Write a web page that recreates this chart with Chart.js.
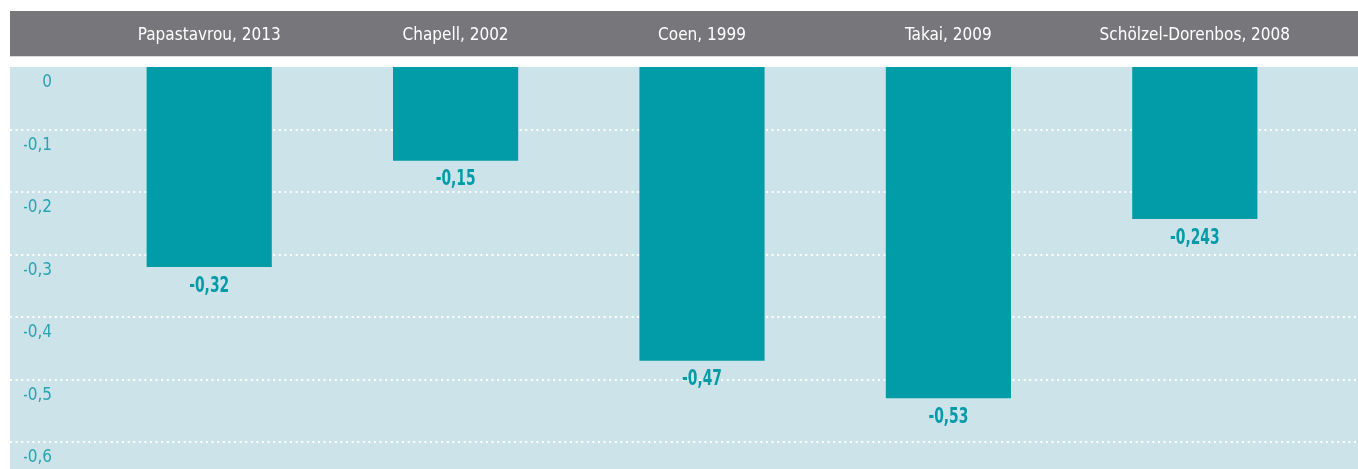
<!DOCTYPE html>
<html>
<head>
<meta charset="utf-8">
<script src="https://cdn.jsdelivr.net/npm/chart.js@4/dist/chart.umd.min.js"></script>
<style>
  html, body { margin: 0; padding: 0; background: #ffffff; }
  #wrap { position: relative; width: 1358px; height: 469px; }
</style>
</head>
<body>
<div id="wrap"><canvas id="chart"></canvas></div>
<script>
// Data
const studies = ['Papastavrou, 2013', 'Chapell, 2002', 'Coen, 1999', 'Takai, 2009', 'Schölzel-Dorenbos, 2008'];
const effectSizes = [-0.32, -0.15, -0.47, -0.53, -0.243];
const yTicks = [0, -0.1, -0.2, -0.3, -0.4, -0.5, -0.6];

const FONT = '"Liberation Sans Narrow", "DejaVu Sans Condensed", "Roboto", sans-serif';
const TEAL = '#029ba8';

function commaNum(v) {
  return String(v).replace('.', ',');
}

// Grey header band, light blue plot background and dotted grid across the full width
const backdrop = {
  id: 'backdrop',
  beforeDraw(chart) {
    const ctx = chart.ctx;
    const area = chart.chartArea;
    ctx.save();
    ctx.fillStyle = '#77777b';
    ctx.fillRect(10, 11, chart.width - 10, 45);
    ctx.fillStyle = '#d9d9d9';
    ctx.fillRect(10, 56, chart.width - 10, 1);
    ctx.fillStyle = '#cce3e9';
    ctx.fillRect(10, area.top, chart.width - 10, chart.height - area.top);
    ctx.restore();
  },
  beforeDatasetsDraw(chart) {
    const ctx = chart.ctx;
    const y = chart.scales.y;
    ctx.save();
    ctx.strokeStyle = '#ffffff';
    ctx.lineWidth = 2;
    ctx.setLineDash([2, 3.6]);
    yTicks.forEach(function(v) {
      if (v === 0) return;
      const py = Math.round(y.getPixelForValue(v));
      ctx.beginPath();
      ctx.moveTo(10, py);
      ctx.lineTo(chart.width, py);
      ctx.stroke();
    });
    ctx.restore();
  }
};

// Value labels under every bar
const valueLabels = {
  id: 'valueLabels',
  afterDatasetsDraw(chart) {
    const ctx = chart.ctx;
    const meta = chart.getDatasetMeta(0);
    const sx = 0.7;
    ctx.save();
    ctx.font = 'bold 22px ' + FONT;
    ctx.fillStyle = TEAL;
    ctx.textAlign = 'center';
    ctx.textBaseline = 'middle';
    ctx.scale(sx, 1);
    meta.data.forEach(function(bar, i) {
      ctx.fillText(commaNum(effectSizes[i]), bar.x / sx, bar.y + 19);
    });
    ctx.restore();
  }
};

new Chart(document.getElementById('chart'), {
  type: 'bar',
  data: {
    labels: studies,
    datasets: [{
      data: effectSizes,
      backgroundColor: TEAL,
      borderWidth: 0,
      categoryPercentage: 1,
      barPercentage: 0.508
    }]
  },
  options: {
    responsive: true,
    maintainAspectRatio: false,
    animation: false,
    layout: { padding: { left: 24, right: 40, top: 11, bottom: 27 } },
    plugins: {
      legend: { display: false },
      tooltip: { enabled: false }
    },
    scales: {
      x: {
        position: 'top',
        grid: { display: false, drawTicks: false },
        border: { display: false },
        afterFit: function(axis) { axis.height = 56; },
        ticks: {
          color: '#ffffff',
          padding: 21,
          maxRotation: 0,
          autoSkip: false,
          font: { family: FONT, size: 17 }
        }
      },
      y: {
        min: -0.6,
        max: 0,
        afterBuildTicks: function(axis) {
          axis.ticks = yTicks.map(v => ({ value: v }));
        },
        afterFit: function(axis) {
          axis.width = 62;
          axis.paddingTop = 0;
          axis.paddingBottom = 0;
        },
        grid: { display: false, drawTicks: false },
        border: { display: false },
        ticks: {
          color: '#2aa3b0',
          padding: 34,
          labelOffset: 16,
          font: { family: FONT, size: 17 },
          callback: v => commaNum(Math.round(v * 10) / 10)
        }
      }
    }
  },
  plugins: [backdrop, valueLabels]
});
</script>
</body>
</html>
